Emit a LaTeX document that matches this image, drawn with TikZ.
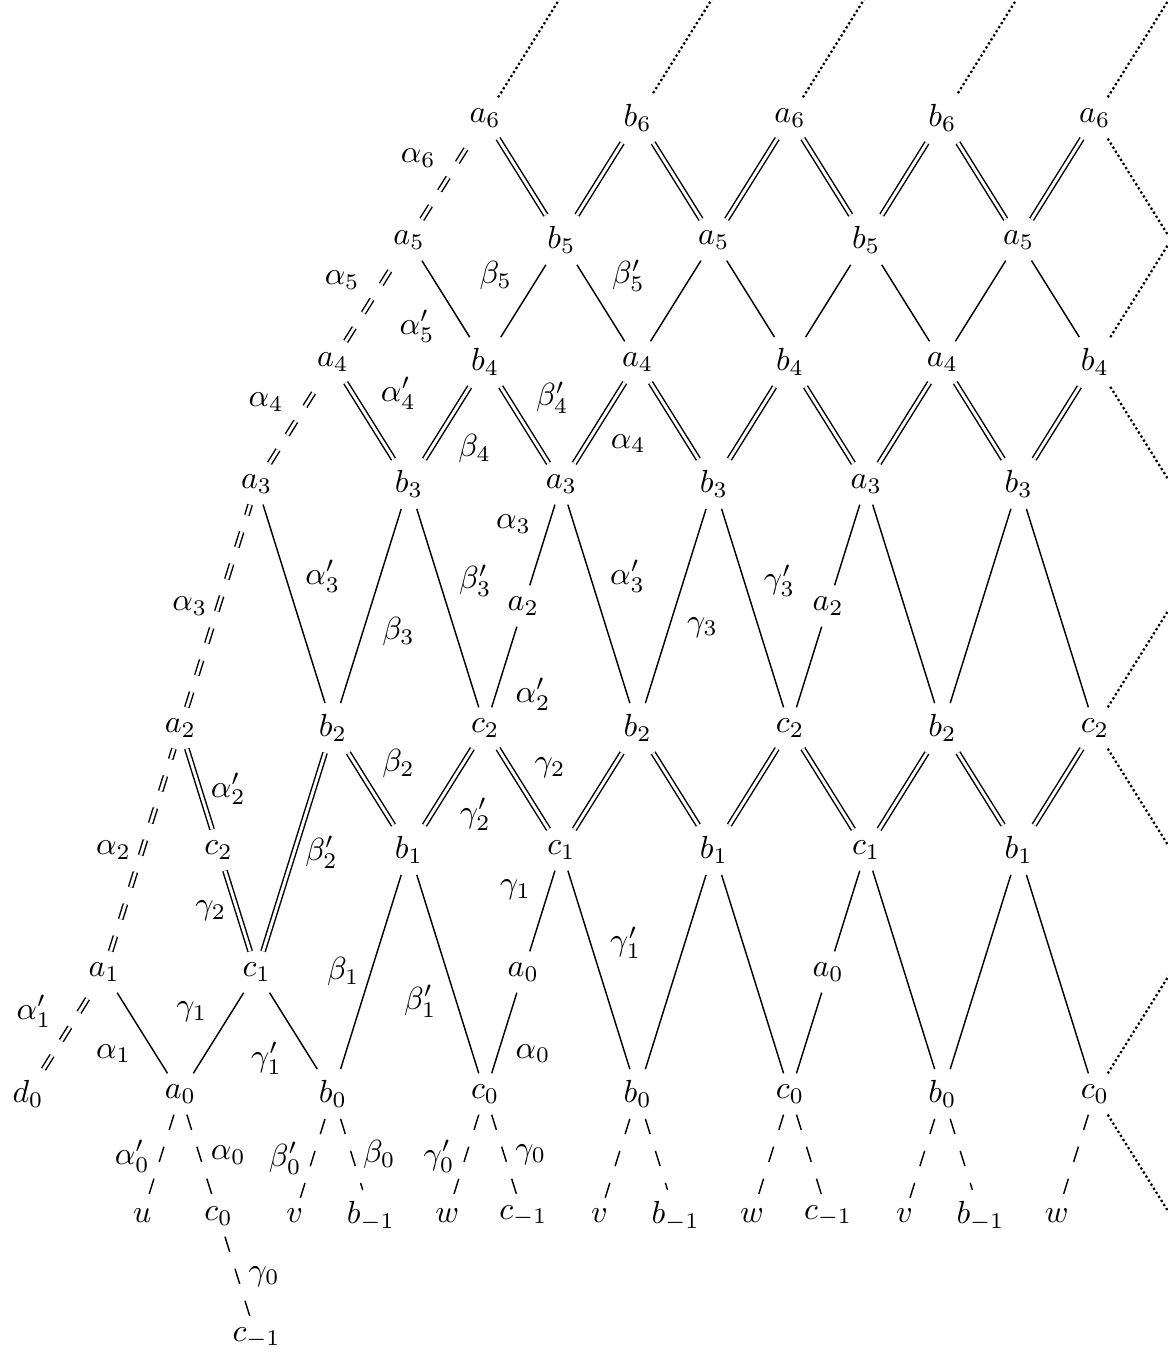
\documentclass[tikz,border=0pt]{standalone}
\usepackage{amsmath, amssymb}
\usepackage{tikz}

\begin{document}
\begin{tikzpicture}[x=0.4191cm, y=1.342cm, line width=0.45pt,
    two/.style={double, double distance=0.9pt},
    twodash/.style={two, dash pattern=on 5pt off 5.5pt},
    onedash/.style={dash pattern=on 5pt off 5.5pt},
    far/.style={line width=0.7pt, dash pattern=on 0.7pt off 0.8pt},
    lab/.style={auto},
    labr/.style={auto, swap}]
    \useasboundingbox (-0.735,-2.131) rectangle (29.92,8.967);
    \clip (-0.735,-2.131) rectangle (29.92,8.967);

    % Nodes, top row down
    \node (a6-12) at (12,8) {$a_6$};
    \node (b6-16) at (16,8) {$b_6$};
    \node (a6-20) at (20,8) {$a_6$};
    \node (b6-24) at (24,8) {$b_6$};
    \node (a6-28) at (28,8) {$a_6$};

    \node (a5-10) at (10,7) {$a_5$};
    \node (b5-14) at (14,7) {$b_5$};
    \node (a5-18) at (18,7) {$a_5$};
    \node (b5-22) at (22,7) {$b_5$};
    \node (a5-26) at (26,7) {$a_5$};

    \node (a4-8) at (8,6) {$a_4$};
    \node (b4-12) at (12,6) {$b_4$};
    \node (a4-16) at (16,6) {$a_4$};
    \node (b4-20) at (20,6) {$b_4$};
    \node (a4-24) at (24,6) {$a_4$};
    \node (b4-28) at (28,6) {$b_4$};

    \node (a3-6) at (6,5) {$a_3$};
    \node (b3-10) at (10,5) {$b_3$};
    \node (a3-14) at (14,5) {$a_3$};
    \node (b3-18) at (18,5) {$b_3$};
    \node (a3-22) at (22,5) {$a_3$};
    \node (b3-26) at (26,5) {$b_3$};

    \node (a2-13) at (13,4) {$a_2$};
    \node (a2-21) at (21,4) {$a_2$};

    \node (a2-4) at (4,3) {$a_2$};
    \node (b2-8) at (8,3) {$b_2$};
    \node (c2-12) at (12,3) {$c_2$};
    \node (b2-16) at (16,3) {$b_2$};
    \node (c2-20) at (20,3) {$c_2$};
    \node (b2-24) at (24,3) {$b_2$};
    \node (c2-28) at (28,3) {$c_2$};

    \node (c2-5) at (5,2) {$c_2$};
    \node (b1-10) at (10,2) {$b_1$};
    \node (c1-14) at (14,2) {$c_1$};
    \node (b1-18) at (18,2) {$b_1$};
    \node (c1-22) at (22,2) {$c_1$};
    \node (b1-26) at (26,2) {$b_1$};

    \node (a1-2) at (2,1) {$a_1$};
    \node (c1-6) at (6,1) {$c_1$};
    \node (a0-13) at (13,1) {$a_0$};
    \node (a0-21) at (21,1) {$a_0$};

    \node (d0-0) at (0,0) {$d_0$};
    \node (a0-4) at (4,0) {$a_0$};
    \node (b0-8) at (8,0) {$b_0$};
    \node (c0-12) at (12,0) {$c_0$};
    \node (b0-16) at (16,0) {$b_0$};
    \node (c0-20) at (20,0) {$c_0$};
    \node (b0-24) at (24,0) {$b_0$};
    \node (c0-28) at (28,0) {$c_0$};

    \node (u-3) at (3,-1) {$u$};
    \node (c0-5) at (5,-1) {$c_0$};
    \node (v-7) at (7,-1) {$v$};
    \node (bm-9) at (9,-1) {$b_{-1}$};
    \node (w-11) at (11,-1) {$w$};
    \node (cm-13) at (13,-1) {$c_{-1}$};
    \node (v-15) at (15,-1) {$v$};
    \node (bm-17) at (17,-1) {$b_{-1}$};
    \node (w-19) at (19,-1) {$w$};
    \node (cm-21) at (21,-1) {$c_{-1}$};
    \node (v-23) at (23,-1) {$v$};
    \node (bm-25) at (25,-1) {$b_{-1}$};
    \node (w-27) at (27,-1) {$w$};

    \node (cm-6) at (6,-2) {$c_{-1}$};

    % Loose ends off the edge
    \coordinate (t14) at (14,9);
    \coordinate (t18) at (18,9);
    \coordinate (t22) at (22,9);
    \coordinate (t26) at (26,9);
    \coordinate (t30) at (30,9);
    \coordinate (r7) at (30,7);
    \coordinate (r5) at (30,5);
    \coordinate (r4) at (30,4);
    \coordinate (r2) at (30,2);
    \coordinate (r1) at (30,1);
    \coordinate (rm1) at (30,-1);

    % Left chain
    \draw[twodash] (d0-0) -- node[lab, pos=0.4] {$\alpha'_1$} (a1-2);
    \draw[twodash] (a1-2) -- node[left] {$\alpha_2$} (a2-4);
    \draw[twodash] (a2-4) -- node[left] {$\alpha_3$} (a3-6);
    \draw[twodash] (a3-6) -- node[lab] {$\alpha_4$} (a4-8);
    \draw[twodash] (a4-8) -- node[lab] {$\alpha_5$} (a5-10);
    \draw[twodash] (a5-10) -- node[lab] {$\alpha_6$} (a6-12);

    % Labelled part
    \draw[two] (c2-5) -- node[right] {$\alpha'_2$} (a2-4);
    \draw[two] (c1-6) -- node[left] {$\gamma_2$} (c2-5);
    \draw (a0-4) -- node[lab] {$\alpha_1$} (a1-2);
    \draw (a0-4) -- node[lab] {$\gamma_1$} (c1-6);
    \draw (b0-8) -- node[lab] {$\gamma'_1$} (c1-6);
    \draw (b0-8) -- node[left] {$\beta_1$} (b1-10);
    \draw[two] (c1-6) -- node[right] {$\beta'_2$} (b2-8);
    \draw (b2-8) -- node[labr] {$\alpha'_3$} (a3-6);
    \draw (b2-8) -- node[labr] {$\beta_3$} (b3-10);
    \draw[two] (b1-10) -- node[labr] {$\beta_2$} (b2-8);
    \draw[two] (b1-10) -- node[labr] {$\gamma'_2$} (c2-12);
    \draw (c0-12) -- node[lab] {$\beta'_1$} (b1-10);
    \draw (c2-12) -- node[labr] {$\beta'_3$} (b3-10);
    \draw[two] (b3-10) -- node[labr] {$\alpha'_4$} (a4-8);
    \draw[two] (b3-10) -- node[labr] {$\beta_4$} (b4-12);
    \draw (b4-12) -- node[lab] {$\alpha'_5$} (a5-10);
    \draw (b4-12) -- node[lab] {$\beta_5$} (b5-14);
    \draw (a4-16) -- node[labr] {$\beta'_5$} (b5-14);
    \draw[two] (a3-14) -- node[labr] {$\beta'_4$} (b4-12);
    \draw[two] (a3-14) -- node[labr] {$\alpha_4$} (a4-16);
    \draw (a2-13) -- node[lab] {$\alpha_3$} (a3-14);
    \draw (c2-12) -- node[labr] {$\alpha'_2$} (a2-13);
    \draw[two] (c1-14) -- node[labr] {$\gamma_2$} (c2-12);
    \draw[two] (c1-14) -- (b2-16);
    \draw (a0-13) -- node[lab] {$\gamma_1$} (c1-14);
    \draw (c0-12) -- node[labr] {$\alpha_0$} (a0-13);
    \draw (b0-16) -- node[labr] {$\gamma'_1$} (c1-14);
    \draw (b2-16) -- node[labr] {$\alpha'_3$} (a3-14);
    \draw (b2-16) -- node[labr] {$\gamma_3$} (b3-18);
    \draw (c2-20) -- node[labr] {$\gamma'_3$} (b3-18);

    % Rows 7-8
    \draw[two] (b5-14) -- (a6-12);
    \draw[two] (b5-14) -- (b6-16);
    \draw[two] (a5-18) -- (b6-16);
    \draw[two] (a5-18) -- (a6-20);
    \draw[two] (b5-22) -- (a6-20);
    \draw[two] (b5-22) -- (b6-24);
    \draw[two] (a5-26) -- (b6-24);
    \draw[two] (a5-26) -- (a6-28);

    % Rows 6-7
    \draw (a4-16) -- (a5-18);
    \draw (b4-20) -- (a5-18);
    \draw (b4-20) -- (b5-22);
    \draw (a4-24) -- (b5-22);
    \draw (a4-24) -- (a5-26);
    \draw (b4-28) -- (a5-26);

    % Rows 5-6
    \draw[two] (b3-18) -- (a4-16);
    \draw[two] (b3-18) -- (b4-20);
    \draw[two] (a3-22) -- (b4-20);
    \draw[two] (a3-22) -- (a4-24);
    \draw[two] (b3-26) -- (a4-24);
    \draw[two] (b3-26) -- (b4-28);

    % Rows 3-5
    \draw (a2-21) -- (a3-22);
    \draw (c2-20) -- (a2-21);
    \draw (b2-24) -- (a3-22);
    \draw (b2-24) -- (b3-26);
    \draw (c2-28) -- (b3-26);

    % Rows 2-3
    \draw[two] (b1-18) -- (b2-16);
    \draw[two] (b1-18) -- (c2-20);
    \draw[two] (c1-22) -- (c2-20);
    \draw[two] (c1-22) -- (b2-24);
    \draw[two] (b1-26) -- (b2-24);
    \draw[two] (b1-26) -- (c2-28);

    % Rows 0-2
    \draw (b0-16) -- (b1-18);
    \draw (c0-20) -- (b1-18);
    \draw (a0-21) -- (c1-22);
    \draw (c0-20) -- (a0-21);
    \draw (b0-24) -- (c1-22);
    \draw (b0-24) -- (b1-26);
    \draw (c0-28) -- (b1-26);

    % Bottom tails
    \draw[onedash] (a0-4) -- node[left] {$\alpha'_0$} (u-3);
    \draw[onedash] (a0-4) -- node[right] {$\alpha_0$} (c0-5);
    \draw[onedash] (c0-5) -- node[right] {$\gamma_0$} (cm-6);
    \draw[onedash] (b0-8) -- node[left] {$\beta'_0$} (v-7);
    \draw[onedash] (b0-8) -- node[right] {$\beta_0$} (bm-9);
    \draw[onedash] (c0-12) -- node[left] {$\gamma'_0$} (w-11);
    \draw[onedash] (c0-12) -- node[right] {$\gamma_0$} (cm-13);
    \draw[onedash] (b0-16) -- (v-15);
    \draw[onedash] (b0-16) -- (bm-17);
    \draw[onedash] (c0-20) -- (w-19);
    \draw[onedash] (c0-20) -- (cm-21);
    \draw[onedash] (b0-24) -- (v-23);
    \draw[onedash] (b0-24) -- (bm-25);
    \draw[onedash] (c0-28) -- (w-27);

    % Dotted continuations
    \draw[far] (a6-12) -- (t14);
    \draw[far] (b6-16) -- (t18);
    \draw[far] (a6-20) -- (t22);
    \draw[far] (b6-24) -- (t26);
    \draw[far] (a6-28) -- (t30);
    \draw[far] (a6-28) -- (r7);
    \draw[far] (b4-28) -- (r7);
    \draw[far] (b4-28) -- (r5);
    \draw[far] (c2-28) -- (r4);
    \draw[far] (c2-28) -- (r2);
    \draw[far] (c0-28) -- (r1);
    \draw[far] (c0-28) -- (rm1);
\end{tikzpicture}
\end{document}
